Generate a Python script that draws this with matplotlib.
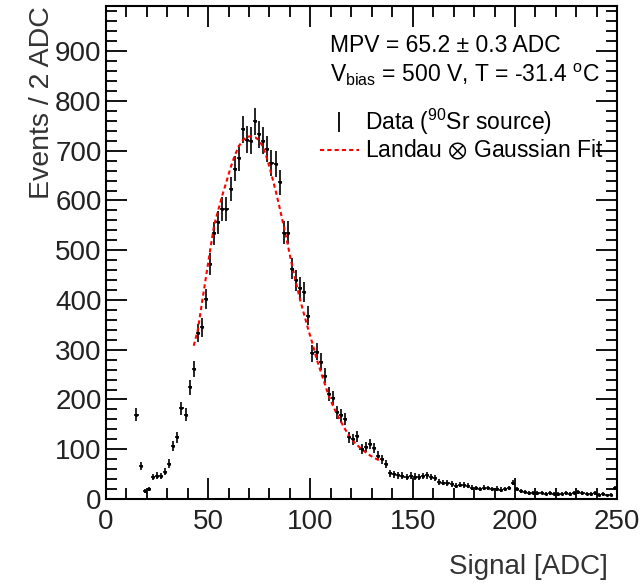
import numpy as np
import matplotlib.pyplot as plt
from matplotlib.lines import Line2D

plt.rcParams['font.family'] = ['Liberation Sans', 'DejaVu Sans']
plt.rcParams['mathtext.fontset'] = 'custom'
plt.rcParams['mathtext.rm'] = 'Liberation Sans'
plt.rcParams['mathtext.it'] = 'Liberation Sans:italic'

# histogram: 2 ADC bins, first bin centre at 15
bin_width = 2
first_centre = 15
counts = [169, 67, 16, 20, 44, 47, 46, 55, 71, 106,
          124, 182, 169, 225, 262, 334, 345, 402, 472, 534,
          556, 582, 582, 623, 664, 685, 743, 722, 720, 759,
          733, 720, 703, 675, 673, 637, 535, 535, 463, 440,
          425, 416, 368, 293, 296, 276, 248, 211, 203, 174,
          168, 161, 124, 120, 126, 100, 105, 110, 102, 87,
          80, 70, 52, 50, 48, 47, 44, 47, 45, 44,
          46, 48, 44, 42, 35, 33, 32, 30, 27, 29,
          28, 27, 23, 22, 20, 23, 22, 20, 21, 19,
          20, 22, 33, 20, 16, 14, 12, 13, 12, 13,
          11, 12, 11, 10, 11, 12, 10, 13, 14, 12,
          11, 10, 12, 9, 10, 8, 9, 22]

# Landau x Gaussian fit curve
fit_x = [43, 45, 47, 49, 51, 53, 55, 57, 59, 61, 63, 65, 67, 69, 71, 73, 75,
         77, 79, 81, 83, 85, 87, 89, 91, 93, 95, 97, 99, 101, 103, 105, 107,
         109, 111, 113, 115, 117, 119, 121, 123, 125, 127, 129, 131, 133, 135]
fit_y = [308, 340, 394, 447, 500, 551, 581, 611, 638, 666, 690, 709, 721, 728,
         729, 727, 721, 706, 682, 652, 620, 585, 548, 510, 470, 435, 400, 370,
         340, 313, 282, 257, 232, 207, 188, 170, 155, 140, 126, 116, 108, 100,
         94, 88, 83, 79, 75]

counts = np.array(counts, dtype=float)
centres = first_centre + bin_width * np.arange(len(counts))
errors = np.sqrt(counts)

fig = plt.figure(figsize=(6.41, 5.85), dpi=100)
ax = fig.add_axes([0.165, 0.147, 0.798, 0.842])

ax.errorbar(centres, counts, yerr=errors, xerr=bin_width / 2, fmt='.', ms=2.5,
            color='black', elinewidth=1.2, capsize=0)
ax.plot(fit_x, fit_y, color='red', ls=(0, (2, 1.5)), lw=1.5)

ax.set_xlim(0, 250)
ax.set_ylim(0, 990)
ax.set_xticks([0, 50, 100, 150, 200, 250])
ax.set_xticks(np.arange(0, 251, 10), minor=True)
ax.set_yticks(np.arange(0, 901, 100))
ax.set_yticks(np.arange(0, 990, 20), minor=True)
ax.tick_params(which='both', direction='in', top=True, right=True, labelsize=20,
               width=1.3, labelcolor='#222222')
ax.tick_params(which='major', length=15)
ax.tick_params(axis='y', pad=3)
ax.tick_params(axis='x', pad=7)
ax.tick_params(which='minor', length=8)
for s in ax.spines.values():
    s.set_linewidth(1.5)

ax.set_xlabel('Signal [ADC]', loc='right', fontsize=20, color='#333333')
ax.xaxis.set_label_coords(0.982, -0.112)
ax.set_ylabel('Events / 2 ADC', loc='top', fontsize=20.5, color='#333333')
ax.yaxis.set_label_coords(-0.1, 1.0)

ax.text(0.438, 0.907, 'MPV = 65.2 \u00b1 0.3 ADC', transform=ax.transAxes, fontsize=16.5)
ax.text(0.438, 0.846, 'V$_{\\rm bias}$ = 500 V, T = -31.4 $^{\\rm o}$C',
        transform=ax.transAxes, fontsize=16.5)

data_handle = Line2D([], [], color='black', marker='|', ls='none', ms=14, mew=1.3)
fit_handle = Line2D([], [], color='red', ls=(0, (2, 1.5)), lw=1.5)
ax.legend([data_handle, fit_handle],
          ['Data ($^{90}$Sr source)', 'Landau $\u2297$ Gaussian Fit'],
          loc='upper left', bbox_to_anchor=(0.418, 0.797), frameon=False, fontsize=16.5,
          handlelength=1.7, handletextpad=0.3, labelspacing=0.1, borderaxespad=0,
          borderpad=0)

fig.savefig('out.png', dpi=100)
